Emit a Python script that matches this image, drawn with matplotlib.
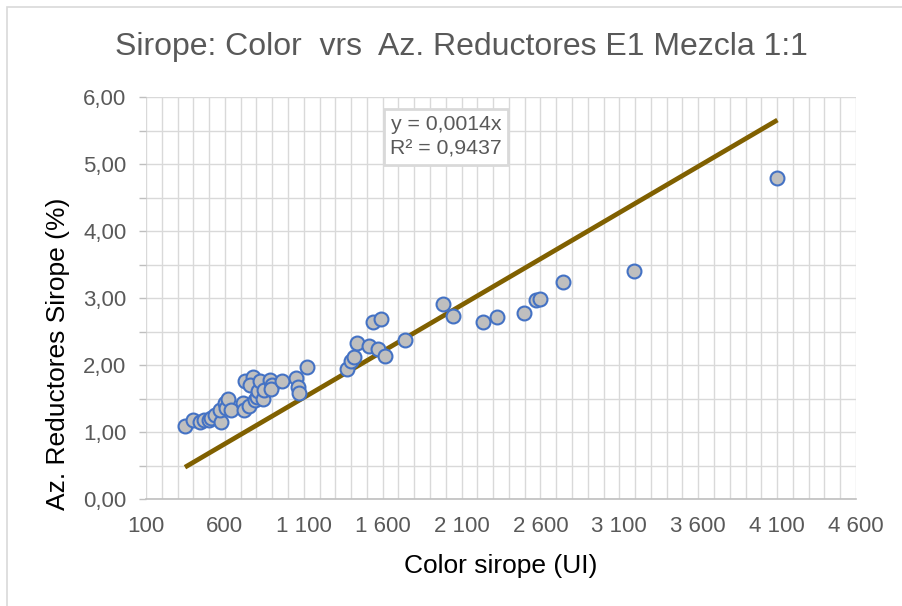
import numpy as np
import matplotlib
matplotlib.use("Agg")
import matplotlib.pyplot as plt
from matplotlib.ticker import FuncFormatter, MultipleLocator, FixedLocator
from matplotlib.patches import Rectangle

plt.rcParams['font.family'] = ['Liberation Sans', 'DejaVu Sans']

# Datos (color en UI, azucares reductores en %)
color_ui = [347, 400, 445, 470, 500, 515, 540, 575, 568, 600,
            610, 622, 640, 715, 720, 727, 752, 776, 760, 790,
            805, 812, 822, 840, 850, 886, 896, 890, 960, 1051,
            1065, 1072, 1122, 1372, 1397, 1418, 1439, 1515, 1541, 1589,
            1568, 1615, 1741, 1984, 2047, 2236, 2324, 2495, 2571, 2597,
            2743, 3193, 4102]
az_red = [1.10, 1.18, 1.16, 1.18, 1.18, 1.21, 1.26, 1.16, 1.33, 1.43,
          1.36, 1.50, 1.33, 1.43, 1.33, 1.76, 1.40, 1.83, 1.71, 1.48,
          1.52, 1.61, 1.76, 1.50, 1.63, 1.78, 1.70, 1.65, 1.76, 1.81,
          1.68, 1.58, 1.98, 1.94, 2.07, 2.13, 2.34, 2.29, 2.65, 2.69,
          2.24, 2.14, 2.38, 2.91, 2.74, 2.64, 2.72, 2.78, 2.97, 2.99,
          3.25, 3.41, 4.80]
x_ticks = [100, 600, 1100, 1600, 2100, 2600, 3100, 3600, 4100, 4600]

pendiente = 0.00138  # linea de tendencia sin intercepto
texto_ecuacion = "y = 0,0014x\nR² = 0,9437"

x = np.array(color_ui)
y = np.array(az_red)

W, H = 903, 606
fig = plt.figure(figsize=(W / 100, H / 100), dpi=100)
fig.patches.append(Rectangle((7 / W, -0.1), 1.2, 1 - 7 / H + 0.1,
                             transform=fig.transFigure, fill=False,
                             edgecolor='#D9D9D9', lw=1.2))

ax = fig.add_axes([146 / W, 1 - 499.3 / H, 710 / W, 402 / H])

gris = '#595959'
ax.grid(True, which='both', color='#D9D9D9', lw=1.0)
ax.set_axisbelow(True)

xt = np.array([x.min(), x.max()])
ax.plot(xt, pendiente * xt, color='#806000', lw=3.4, solid_capstyle='butt', zorder=2)
ax.plot(x, y, 'o', ms=10, mfc='#BFBFBF', mec='#4472C4', mew=1.5, zorder=3)

ax.set_xlim(100, 4600)
ax.set_ylim(0, 6)
ax.xaxis.set_major_locator(FixedLocator(x_ticks))
ax.xaxis.set_minor_locator(MultipleLocator(100))
ax.yaxis.set_major_locator(MultipleLocator(1))
ax.yaxis.set_minor_locator(MultipleLocator(0.5))
ax.xaxis.set_major_formatter(FuncFormatter(lambda v, p: f"{v:,.0f}".replace(",", " ")))
ax.yaxis.set_major_formatter(FuncFormatter(lambda v, p: f"{v:.2f}".replace(".", ",")))

for s in ['top', 'right']:
    ax.spines[s].set_visible(False)
ax.spines['left'].set_visible(False)
ax.spines['bottom'].set_color('#BFBFBF')
ax.spines['bottom'].set_linewidth(1.2)

ax.tick_params(axis='x', which='both', length=0, pad=12, labelsize=16, labelcolor=gris)
ax.tick_params(axis='y', which='both', length=5, width=1, color='#BFBFBF',
               pad=9, labelsize=16, labelcolor=gris)

ax.set_xlabel("Color sirope (UI)", fontsize=19, color='black')
ax.xaxis.set_label_coords(0.5, -0.137)
ax.set_ylabel("Az. Reductores Sirope (%)", fontsize=19, color='black')
ax.yaxis.set_label_coords(-0.107, 0.361)

fig.text(461 / W, 1 - 47 / H, "Sirope: Color  vrs  Az. Reductores E1 Mezcla 1:1",
         ha='center', va='center', fontsize=23, color=gris)

ax.text(2001, 5.41, texto_ecuacion,
        ha='center', va='center', fontsize=15.3, color=gris, linespacing=1.35,
        bbox=dict(boxstyle='square,pad=0.3', fc='white', ec='#D9D9D9', lw=2))

fig.savefig("out.png", dpi=100)
